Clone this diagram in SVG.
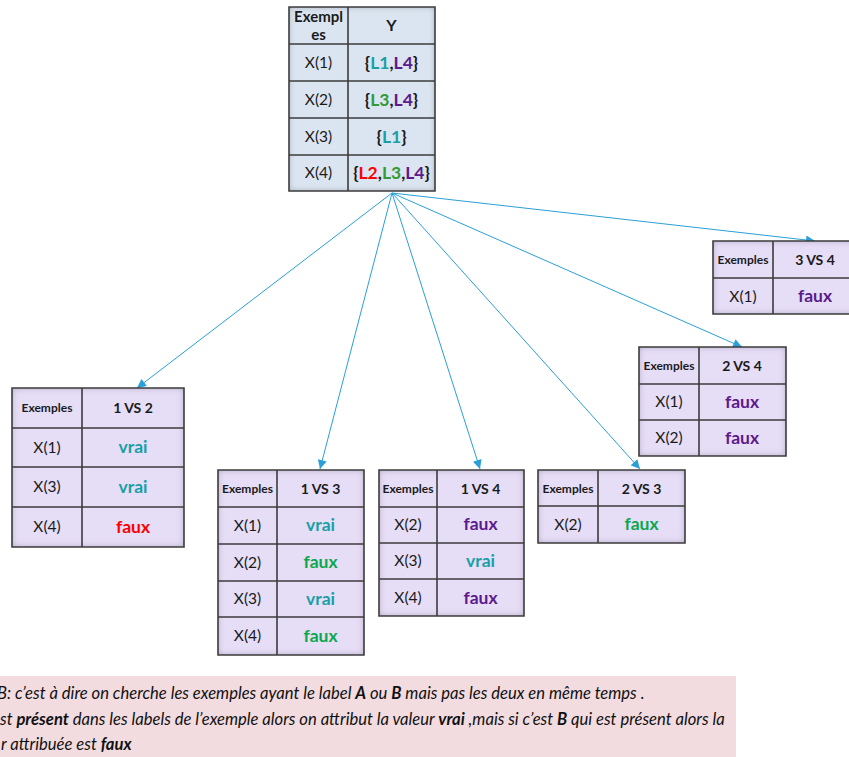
<svg xmlns="http://www.w3.org/2000/svg" width="849" height="757" viewBox="0 0 849 757">
  <defs>
    <style>
      .grid { fill: none; stroke: #3c3c3c; stroke-width: 1.6; }
      .lav { fill: #e6ddf7; filter: url(#inset); }
      .blu { fill: #dbe5f1; filter: url(#inset); }
      text { font-family: Lato, "Open Sans", sans-serif; text-anchor: middle; fill: #1a1a1a; }
      .hd { font-size: 12px; font-weight: bold; }
      .vs { font-size: 14px; font-weight: bold; }
      .x { font-size: 15.5px; }
      .v { font-size: 17.5px; font-weight: bold; }
      .teal { fill: #17a0a6; }
      .red { fill: #ff0000; }
      .green { fill: #0aa84f; }
      .purple { fill: #5c1a8c; }
      .g3 { fill: #349a34; }
      .link { fill: none; stroke: #2a9fd8; stroke-width: 1; marker-end: url(#arrow); }
      .note { font-size: 16.6px; font-style: italic; text-anchor: start; fill: #111; }
      .note tspan.b { font-weight: bold; }
    </style>
    <!-- soft inner shadow along the edges of each table -->
    <filter id="inset" x="-10%" y="-10%" width="120%" height="120%">
      <feFlood flood-color="#2e2840" flood-opacity="0.55" result="c"/>
      <feComposite in="c" in2="SourceAlpha" operator="out" result="inv"/>
      <feGaussianBlur in="inv" stdDeviation="3" result="blur"/>
      <feComposite in="blur" in2="SourceAlpha" operator="in" result="shadow"/>
      <feMerge>
        <feMergeNode in="SourceGraphic"/>
        <feMergeNode in="shadow"/>
      </feMerge>
    </filter>
    <marker id="arrow" viewBox="0 0 10 10" refX="10" refY="5" markerWidth="10" markerHeight="9" markerUnits="userSpaceOnUse" orient="auto">
      <path d="M0,0 L10,5 L0,10 z" fill="#2a9fd8"/>
    </marker>
  </defs>

  <!-- explanatory note -->
  <g id="note">
    <rect x="0" y="676" width="736" height="81" fill="#f2dce0"/>
    <text class="note" x="-3" y="699">B: c’est à dire on cherche les exemples ayant le label <tspan class="b">A</tspan> ou <tspan class="b">B</tspan> mais pas les deux en même temps .</text>
    <text class="note" x="0" y="725">st <tspan class="b">présent</tspan> dans les labels de l’exemple alors on attribut la valeur <tspan class="b">vrai</tspan> ,mais si c’est <tspan class="b">B</tspan> qui est présent alors la</text>
    <text class="note" x="1" y="750">r attribuée est <tspan class="b">faux</tspan></text>
  </g>

  <!-- connectors -->
  <g id="connectors">
    <line class="link" x1="392" y1="193" x2="137" y2="388"/>
    <line class="link" x1="392" y1="193" x2="320" y2="469"/>
    <line class="link" x1="392" y1="193" x2="480" y2="469"/>
    <line class="link" x1="392" y1="193" x2="640" y2="469"/>
    <line class="link" x1="392" y1="193" x2="742" y2="347"/>
    <line class="link" x1="392" y1="193" x2="815" y2="241"/>
  </g>

  <!-- root table -->
  <g id="root">
    <rect class="blu" x="289" y="7" width="146" height="184"/>
    <path class="grid" d="M289,7 H435 V191 H289 Z M348,7 V191 M289,44 H435 M289,81 H435 M289,118 H435 M289,155 H435"/>
    <text class="vs" x="318.5" y="22" style="font-size:15px">Exempl</text>
    <text class="vs" x="318.5" y="40" style="font-size:15px">es</text>
    <text class="vs" x="391.5" y="31" style="font-size:16px">Y</text>
    <text class="x" x="318.5" y="68">X(1)</text>
    <text class="x" x="318.5" y="105">X(2)</text>
    <text class="x" x="318.5" y="142">X(3)</text>
    <text class="x" x="318.5" y="178">X(4)</text>
    <text class="v" x="391.5" y="69">{<tspan class="teal">L1</tspan>,<tspan class="purple">L4</tspan>}</text>
    <text class="v" x="391.5" y="106">{<tspan class="g3">L3</tspan>,<tspan class="purple">L4</tspan>}</text>
    <text class="v" x="391.5" y="143">{<tspan class="teal">L1</tspan>}</text>
    <text class="v" x="391.5" y="179">{<tspan class="red">L2</tspan>,<tspan class="g3">L3</tspan>,<tspan class="purple">L4</tspan>}</text>
  </g>

  <!-- 1 VS 2 -->
  <g id="t12">
    <rect class="lav" x="12" y="388" width="172" height="159"/>
    <path class="grid" d="M12,388 H184 V547 H12 Z M82,388 V547 M12,428 H184 M12,467 H184 M12,507 H184"/>
    <text class="hd" x="47" y="412">Exemples</text>
    <text class="vs" x="133" y="413">1 VS 2</text>
    <text class="x" x="47" y="453">X(1)</text>
    <text class="x" x="47" y="492">X(3)</text>
    <text class="x" x="47" y="532">X(4)</text>
    <text class="v teal" x="133" y="453">vrai</text>
    <text class="v teal" x="133" y="493">vrai</text>
    <text class="v red" x="133" y="533">faux</text>
  </g>

  <!-- 1 VS 3 -->
  <g id="t13">
    <rect class="lav" x="218" y="470" width="146" height="185"/>
    <path class="grid" d="M218,470 H364 V655 H218 Z M277,470 V655 M218,507 H364 M218,544 H364 M218,581 H364 M218,617 H364"/>
    <text class="hd" x="247.5" y="493">Exemples</text>
    <text class="vs" x="320.5" y="494">1 VS 3</text>
    <text class="x" x="247.5" y="531">X(1)</text>
    <text class="x" x="247.5" y="568">X(2)</text>
    <text class="x" x="247.5" y="604">X(3)</text>
    <text class="x" x="247.5" y="641">X(4)</text>
    <text class="v teal" x="320.5" y="531">vrai</text>
    <text class="v green" x="320.5" y="568">faux</text>
    <text class="v teal" x="320.5" y="605">vrai</text>
    <text class="v green" x="320.5" y="642">faux</text>
  </g>

  <!-- 1 VS 4 -->
  <g id="t14">
    <rect class="lav" x="379" y="470" width="145" height="146"/>
    <path class="grid" d="M379,470 H524 V616 H379 Z M437,470 V616 M379,507 H524 M379,543 H524 M379,579 H524"/>
    <text class="hd" x="408" y="493">Exemples</text>
    <text class="vs" x="480.5" y="494">1 VS 4</text>
    <text class="x" x="408" y="530">X(2)</text>
    <text class="x" x="408" y="566">X(3)</text>
    <text class="x" x="408" y="603">X(4)</text>
    <text class="v purple" x="480.5" y="530">faux</text>
    <text class="v teal" x="480.5" y="567">vrai</text>
    <text class="v purple" x="480.5" y="604">faux</text>
  </g>

  <!-- 2 VS 3 -->
  <g id="t23">
    <rect class="lav" x="538" y="470" width="147" height="73"/>
    <path class="grid" d="M538,470 H685 V543 H538 Z M598,470 V543 M538,506 H685"/>
    <text class="hd" x="568" y="493">Exemples</text>
    <text class="vs" x="641.5" y="494">2 VS 3</text>
    <text class="x" x="568" y="530">X(2)</text>
    <text class="v green" x="641.5" y="530">faux</text>
  </g>

  <!-- 2 VS 4 -->
  <g id="t24">
    <rect class="lav" x="639" y="347" width="147" height="109"/>
    <path class="grid" d="M639,347 H786 V456 H639 Z M699,347 V456 M639,384 H786 M639,420 H786"/>
    <text class="hd" x="669" y="370">Exemples</text>
    <text class="vs" x="742" y="371">2 VS 4</text>
    <text class="x" x="669" y="407">X(1)</text>
    <text class="x" x="669" y="443">X(2)</text>
    <text class="v purple" x="742" y="408">faux</text>
    <text class="v purple" x="742" y="444">faux</text>
  </g>

  <!-- 3 VS 4 -->
  <g id="t34">
    <rect class="lav" x="713" y="241" width="144" height="73"/>
    <path class="grid" d="M713,241 H857 V314 H713 Z M773,241 V314 M713,278 H857"/>
    <text class="hd" x="743" y="264">Exemples</text>
    <text class="vs" x="815" y="265">3 VS 4</text>
    <text class="x" x="743" y="302">X(1)</text>
    <text class="v purple" x="815" y="302">faux</text>
  </g>
</svg>
